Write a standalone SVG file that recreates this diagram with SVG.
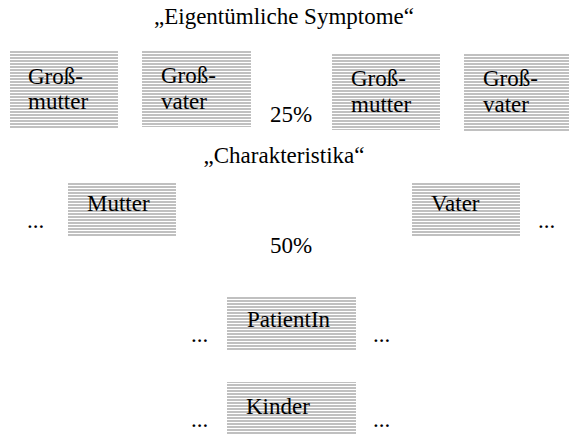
<svg xmlns="http://www.w3.org/2000/svg" width="569" height="437" viewBox="0 0 569 437">
<defs>
<pattern id="stripes" patternUnits="userSpaceOnUse" width="8" height="3">
<rect x="0" y="0" width="8" height="2" fill="#c0c0c0"/>
</pattern>
</defs>
<rect width="569" height="437" fill="#fff"/>
<g id="labels">
<text x="284" y="24" text-anchor="middle" font-family="Times New Roman" font-size="23">„Eigentümliche Symptome“</text>
<text x="270" y="122" font-family="Times New Roman" font-size="23">25%</text>
<text x="284" y="163" text-anchor="middle" font-family="Times New Roman" font-size="23">„Charakteristika“</text>
<text x="270" y="253" font-family="Times New Roman" font-size="23">50%</text>
<text x="27" y="228" font-family="Times New Roman" font-size="23">...</text>
<text x="538" y="228" font-family="Times New Roman" font-size="23">...</text>
<text x="191" y="342" font-family="Times New Roman" font-size="23">...</text>
<text x="373" y="342" font-family="Times New Roman" font-size="23">...</text>
<text x="191" y="427" font-family="Times New Roman" font-size="23">...</text>
<text x="373" y="427" font-family="Times New Roman" font-size="23">...</text>
</g>
<g id="grossmutter1">
<rect fill="url(#stripes)" x="10" y="51" width="108" height="77"/>
<text x="28" y="84" font-family="Times New Roman" font-size="23">Groß-</text>
<text x="28" y="109" font-family="Times New Roman" font-size="23">mutter</text>
</g>
<g id="grossvater1">
<rect fill="url(#stripes)" x="142" y="51" width="109" height="76"/>
<text x="161" y="83" font-family="Times New Roman" font-size="23">Groß-</text>
<text x="161" y="109" font-family="Times New Roman" font-size="23">vater</text>
</g>
<g id="grossmutter2">
<rect fill="url(#stripes)" x="332" y="53" width="108" height="77"/>
<text x="351" y="86" font-family="Times New Roman" font-size="23">Groß-</text>
<text x="351" y="112" font-family="Times New Roman" font-size="23">mutter</text>
</g>
<g id="grossvater2">
<rect fill="url(#stripes)" x="464" y="54" width="105" height="77"/>
<text x="483" y="86" font-family="Times New Roman" font-size="23">Groß-</text>
<text x="483" y="112" font-family="Times New Roman" font-size="23">vater</text>
</g>
<g id="mutter">
<rect fill="url(#stripes)" x="68" y="182" width="108" height="54"/>
<text x="87" y="211" font-family="Times New Roman" font-size="23">Mutter</text>
</g>
<g id="vater">
<rect fill="url(#stripes)" x="412" y="182" width="108" height="54"/>
<text x="431" y="211" font-family="Times New Roman" font-size="23">Vater</text>
</g>
<g id="patientin">
<rect fill="url(#stripes)" x="227" y="296" width="129" height="54"/>
<text x="247" y="327" font-family="Times New Roman" font-size="23">PatientIn</text>
</g>
<g id="kinder">
<rect fill="url(#stripes)" x="227" y="382" width="129" height="53"/>
<text x="246" y="414" font-family="Times New Roman" font-size="23">Kinder</text>
</g>
<g id="connectors"></g>
</svg>
